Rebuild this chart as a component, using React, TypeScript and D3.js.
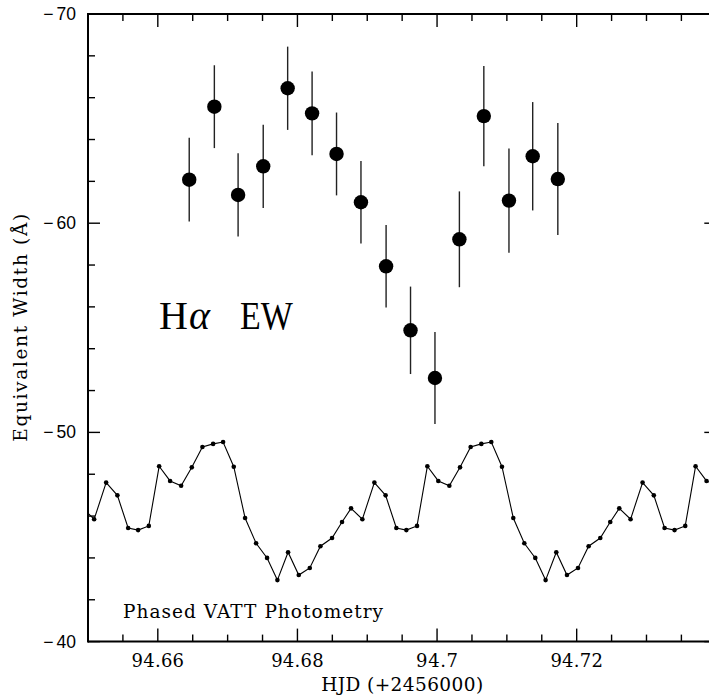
import React from "react";
import * as d3 from "d3";

// Hα equivalent width measurements
const ewTime = [94.6645, 94.6681, 94.6715, 94.6751, 94.6786, 94.6821, 94.6856, 94.6891, 94.6927, 94.6962, 94.6997, 94.7032, 94.7067, 94.7103, 94.7137, 94.7173];
const ewValue = [-62.08, -65.57, -61.35, -62.72, -66.45, -65.25, -63.31, -61.0, -57.94, -54.88, -52.6, -59.23, -65.12, -61.08, -63.2, -62.11];
const ewError = [2.0, 1.98, 1.99, 1.99, 1.99, 2.0, 1.98, 1.97, 1.97, 2.09, 2.2, 2.29, 2.4, 2.49, 2.59, 2.68];

// Phased VATT photometry (plotted in EW-axis units)
const photTime = [
  94.64926,
  94.65088, 94.6526, 94.65421, 94.65575, 94.65718, 94.65871, 94.66019, 94.66176, 94.66334, 94.66487,
  94.66639, 94.66792, 94.66935, 94.67088, 94.6725, 94.67408, 94.67565, 94.67713, 94.67866, 94.68019,
  94.68177, 94.68329, 94.68496, 94.68639, 94.68768,
  94.6893, 94.69102, 94.69263, 94.69417, 94.6956, 94.69713, 94.69861, 94.70018, 94.70176, 94.70329,
  94.70481, 94.70634, 94.70777, 94.7093, 94.71092, 94.7125, 94.71407, 94.71555, 94.71708, 94.71861,
  94.72019, 94.72171, 94.72338, 94.72481, 94.7261,
  94.72772, 94.72944, 94.73105, 94.73259, 94.73402, 94.73555, 94.73703, 94.7386, 94.74018,
];
const photValue = [
  -46.37,
  -45.85, -47.6, -46.99, -45.43, -45.33, -45.53, -48.38, -47.68, -47.45, -48.33,
  -49.3, -49.45, -49.54, -48.36, -45.91, -44.7, -44.0, -42.94, -44.27, -43.18,
  -43.52, -44.56, -44.95, -45.72, -46.37,
  -45.85, -47.6, -46.99, -45.43, -45.33, -45.53, -48.38, -47.68, -47.45, -48.33,
  -49.3, -49.45, -49.54, -48.36, -45.91, -44.7, -44.0, -42.94, -44.27, -43.18,
  -43.52, -44.56, -44.95, -45.72, -46.37,
  -45.85, -47.6, -46.99, -45.43, -45.33, -45.53, -48.38, -47.68, -47.45,
];

const xMajorTicks = [94.66, 94.68, 94.7, 94.72];
const xMajorLabels = ["94.66", "94.68", "94.7", "94.72"];
const yMajorTicks = [-70, -60, -50, -40];
const yMajorLabels = ["70", "60", "50", "40"];

const W = 709;
const H = 695;
const L = 88, R = 716.3, T = 14, B = 641.6;

export default function App() {
  const x = d3.scaleLinear().domain([94.65, 94.74]).range([L, R]);
  const y = d3.scaleLinear().domain([-70, -40]).range([T, B]);

  const xMinor = d3.range(0, 19).map((i) => 94.65 + i * 0.005).filter((v) => !xMajorTicks.some((m) => Math.abs(m - v) < 1e-6));
  const yMinor = d3.range(0, 16).map((i) => -70 + i * 2).filter((v) => !yMajorTicks.some((m) => Math.abs(m - v) < 1e-6));

  const line = d3
    .line<number>()
    .x((_, i) => x(photTime[i]))
    .y((d) => y(d));

  const slab = "'DejaVu Serif', 'Liberation Serif', serif";
  const sans = "'Liberation Sans', Arial, sans-serif";
  const roman = "'Liberation Serif', 'Times New Roman', serif";

  return (
    <svg
      width={W}
      height={H}
      style={{ position: "absolute", left: 0, top: 0, background: "#fff" }}
    >
      <defs>
        <clipPath id="plotclip">
          <rect x={L} y={T} width={R - L} height={B - T} />
        </clipPath>
      </defs>
      <rect x={0} y={0} width={W} height={H} fill="#fff" />

      {/* photometry line */}
      <g clipPath="url(#plotclip)">
        <path d={line(photValue) || ""} fill="none" stroke="#000" strokeWidth={1.1} />
        {photValue.map((v, i) => (
          <circle key={i} cx={x(photTime[i])} cy={y(v)} r={2.3} fill="#000" />
        ))}
      </g>

      {/* EW error bars & points */}
      {ewValue.map((v, i) => (
        <g key={i}>
          <line
            x1={x(ewTime[i])}
            x2={x(ewTime[i])}
            y1={y(v - ewError[i])}
            y2={y(v + ewError[i])}
            stroke="#222"
            strokeWidth={1.4}
          />
          <circle cx={x(ewTime[i])} cy={y(v)} r={7.2} fill="#000" />
        </g>
      ))}

      {/* frame */}
      <g stroke="#000" fill="none">
        <line x1={L} x2={R} y1={T} y2={T} strokeWidth={2} />
        <line x1={L} x2={R} y1={B} y2={B} strokeWidth={2} />
        <line x1={L} x2={L} y1={T - 1} y2={B + 1} strokeWidth={2} />
        <line x1={R} x2={R} y1={T - 1} y2={B + 1} strokeWidth={2} />
      </g>

      {/* ticks */}
      <g stroke="#000" strokeWidth={1.4}>
        {xMajorTicks.map((v) => (
          <g key={"xM" + v}>
            <line x1={x(v)} x2={x(v)} y1={B} y2={B - 13} />
            <line x1={x(v)} x2={x(v)} y1={T} y2={T + 13} />
          </g>
        ))}
        {xMinor.map((v) => (
          <g key={"xm" + v}>
            <line x1={x(v)} x2={x(v)} y1={B} y2={B - 7} />
            <line x1={x(v)} x2={x(v)} y1={T} y2={T + 7} />
          </g>
        ))}
        {yMajorTicks.map((v) => (
          <g key={"yM" + v}>
            <line x1={L} x2={L + 12} y1={y(v)} y2={y(v)} />
            <line x1={R} x2={R - 12} y1={y(v)} y2={y(v)} />
          </g>
        ))}
        {yMinor.map((v) => (
          <g key={"ym" + v}>
            <line x1={L} x2={L + 7} y1={y(v)} y2={y(v)} />
            <line x1={R} x2={R - 7} y1={y(v)} y2={y(v)} />
          </g>
        ))}
      </g>

      {/* x tick labels */}
      {xMajorTicks.map((v, i) => (
        <text
          key={"xl" + v}
          x={x(v)}
          y={667}
          textAnchor="middle"
          fontFamily={slab}
          fontSize={18}
          textLength={xMajorLabels[i].length * 10.5}
          lengthAdjust="spacing"
          fill="#000"
        >
          {xMajorLabels[i]}
        </text>
      ))}

      {/* y tick labels */}
      {yMajorTicks.map((v, i) => (
        <text
          key={"yl" + v}
          x={76}
          y={y(v) + 6}
          textAnchor="end"
          fontFamily={sans}
          fontSize={17.5}
          fill="#000"
        >
          −<tspan dx={3}>{yMajorLabels[i]}</tspan>
        </text>
      ))}

      {/* axis labels */}
      <text
        x={(L + R) / 2}
        y={690.5}
        textAnchor="middle"
        fontFamily={slab}
        fontSize={18.5}
        textLength={162}
        lengthAdjust="spacing"
        fill="#000"
      >
        HJD (+2456000)
      </text>
      <text
        transform={`translate(27, ${(T + B) / 2}) rotate(-90)`}
        textAnchor="middle"
        fontFamily={slab}
        fontSize={18.5}
        textLength={228}
        lengthAdjust="spacing"
        fill="#000"
      >
        Equivalent Width (Å)
      </text>

      {/* annotations */}
      <text
        x={123}
        y={617.5}
        fontFamily={slab}
        fontSize={18.5}
        textLength={260}
        lengthAdjust="spacing"
        fill="#000"
      >
        Phased VATT Photometry
      </text>
      <text x={159} y={328.5} fontFamily={roman} fontSize={40} fill="#000">
        H<tspan fontStyle="italic" dx={1}>α</tspan>
      </text>
      <text
        x={0}
        y={0}
        transform="translate(240, 328.5) scale(0.85, 1)"
        fontFamily={roman}
        fontSize={40}
        fill="#000"
      >
        EW
      </text>
    </svg>
  );
}
